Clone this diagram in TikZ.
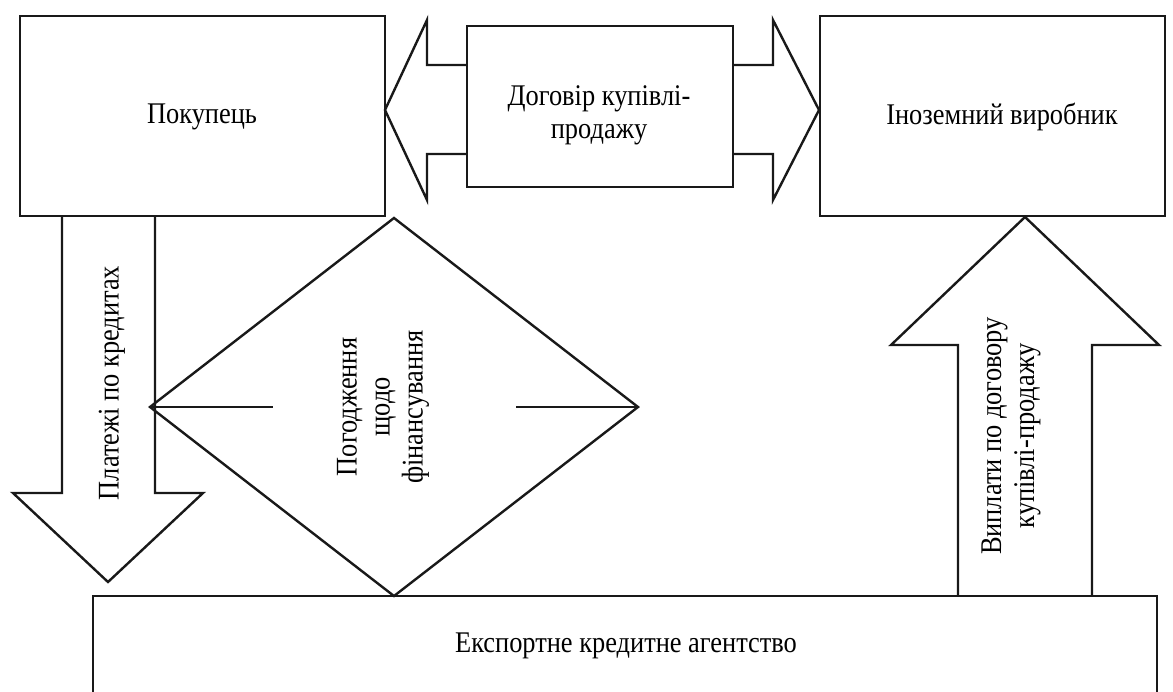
\documentclass[tikz,border=0pt]{standalone}
\usepackage{fontspec}
\setmainfont[FakeStretch=0.88]{Liberation Serif}
\begin{document}
\begin{tikzpicture}[x=1pt,y=-1pt,
  shape line/.style={draw=black!90,line width=2.4pt,line join=miter},
  lbl/.style={font=\fontsize{30}{33}\selectfont,align=center,inner sep=0pt}]
\useasboundingbox (0,0) rectangle (1173,691);
% boxes
\draw[shape line] (20,16) rectangle (385,216);
\draw[shape line] (820,16) rectangle (1165,216);
\draw[shape line] (467,26) rectangle (733,187);
\draw[shape line] (93,700) -- (93,596) -- (1157,596) -- (1157,700);
% double arrow parts
\draw[shape line] (467,65) -- (427,65) -- (427,20) -- (385,110) -- (427,200) -- (427,154) -- (467,154);
\draw[shape line] (733,65) -- (773,65) -- (773,20) -- (819,110) -- (773,200) -- (773,154) -- (733,154);
% down arrow
\draw[shape line] (62,216) -- (62,493) -- (13,493) -- (108,582) -- (203,493) -- (155,493) -- (155,216);
% diamond
\draw[shape line] (150,407) -- (394,218) -- (638,407) -- (394,596) -- cycle;
\draw[shape line] (150,407) -- (273,407);
\draw[shape line] (516,407) -- (638,407);
% up arrow
\draw[shape line] (958,596) -- (958,345) -- (891,345) -- (1025,217) -- (1159,345) -- (1092,345) -- (1092,596);
% labels
\node[lbl] (buyer) at (202,117) {Покупець};
\node[lbl] (maker) at (1002,117) {Іноземний виробник};
\node[lbl] (contract) at (599,115) {Договір купівлі-\\продажу};
\node[lbl] (agency) at (626,646) {Експортне кредитне агентство};
\node[lbl,rotate=90] (pay) at (112,383) {Платежі по кредитах};
\node[lbl,rotate=90] (agree) at (383,407) {Погодження\\щодо\\фінансування};
\node[lbl,rotate=90] (payout) at (1011,436) {Виплати по договору\\купівлі-продажу};
\end{tikzpicture}
\end{document}
